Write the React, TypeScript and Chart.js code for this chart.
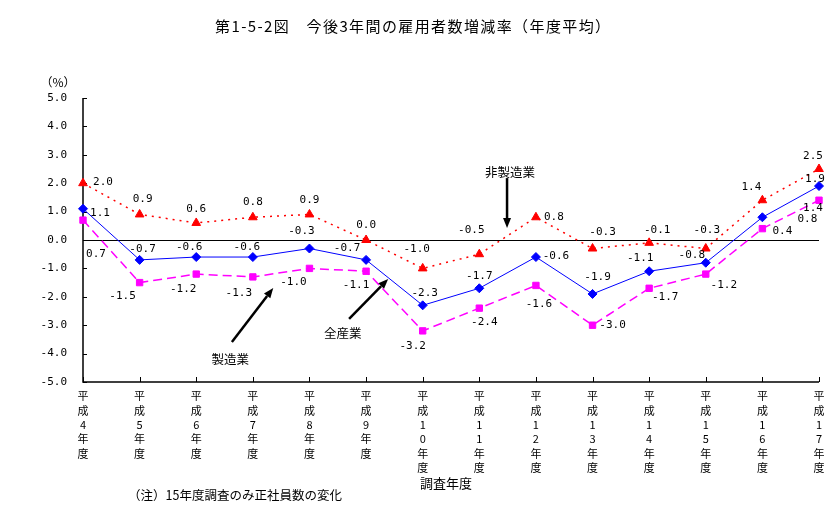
import { useEffect, useRef } from 'react';
import { Chart, registerables } from 'chart.js';

Chart.register(...registerables);

// ---- data ----
const yearNumbers = ['4', '5', '6', '7', '8', '9', '10', '11', '12', '13', '14', '15', '16', '17'];
const allIndustry = [1.1, -0.7, -0.6, -0.6, -0.3, -0.7, -2.3, -1.7, -0.6, -1.9, -1.1, -0.8, 0.8, 1.9];
const manufacturing = [0.7, -1.5, -1.2, -1.3, -1.0, -1.1, -3.2, -2.4, -1.6, -3.0, -1.7, -1.2, 0.4, 1.4];
const nonManufacturing = [2.0, 0.9, 0.6, 0.8, 0.9, 0.0, -1.0, -0.5, 0.8, -0.3, -0.1, -0.3, 1.4, 2.5];
const seriesNames = ['全産業', '製造業', '非製造業'];

// ---- value-label placement (pixel offsets from each point) ----
const allLabelOffsets = [[17, 4], [3, -11], [-7, -10], [-6, -10], [-8, -17], [-19, -12], [2, -12], [0, -12], [20, -1], [5, -17], [-9, -13], [-14, -8], [45, 2], [-4, -7]];
const mfgLabelOffsets = [[13, 34], [-17, 14], [-13, 15], [-14, 16], [-16, 14], [-10, 14], [-10, 15], [5, 14], [3, 19], [20, 0], [16, 9], [18, 11], [20, 3], [-6, 8]];
const nonMfgLabelOffsets = [[20, -1], [3, -15], [0, -14], [0, -15], [0, -14], [0, -15], [-6, -19], [-8, -24], [18, 0], [10, -16], [8, -13], [1, -18], [-11, -13], [-6, -13]];

// ---- annotation arrows (in data coordinates: category index, value) ----
const annotations = [
  { text: '非製造業', tx: 7.54, ty: 2.39, from: [7.49, 2.18], to: [7.49, 0.42] },
  { text: '製造業', tx: 2.6, ty: -4.19, from: [2.63, -3.59], to: [3.36, -1.69] },
  { text: '全産業', tx: 4.59, ty: -3.27, from: [4.7, -2.78], to: [5.39, -1.37] },
];

const CJK = '"Noto Sans CJK JP", "Noto Sans CJK SC", sans-serif';
const MONO = '"DejaVu Sans Mono", "Liberation Mono", monospace';

const xLabels = yearNumbers.map((n) => ['平', '成', ...n.split(''), '年', '度']);

function drawArrow(ctx: CanvasRenderingContext2D, x1: number, y1: number, x2: number, y2: number) {
  const ang = Math.atan2(y2 - y1, x2 - x1);
  const head = 10;
  const hw = 4;
  const bx = x2 - Math.cos(ang) * head;
  const by = y2 - Math.sin(ang) * head;
  ctx.beginPath();
  ctx.moveTo(x1, y1);
  ctx.lineTo(bx, by);
  ctx.lineWidth = 2.5;
  ctx.strokeStyle = '#000';
  ctx.stroke();
  ctx.beginPath();
  ctx.moveTo(x2, y2);
  ctx.lineTo(bx + Math.sin(ang) * hw, by - Math.cos(ang) * hw);
  ctx.lineTo(bx - Math.sin(ang) * hw, by + Math.cos(ang) * hw);
  ctx.closePath();
  ctx.fillStyle = '#000';
  ctx.fill();
}

const overlay = {
  id: 'overlay',
  beforeDatasetsDraw(chart: any) {
    const { ctx, chartArea, scales } = chart;
    const { left, right, top, bottom } = chartArea;
    const xs = scales.x;
    const ys = scales.y;
    ctx.save();
    ctx.strokeStyle = '#000';
    // zero line
    const y0 = Math.round(ys.getPixelForValue(0)) + 0.5;
    ctx.lineWidth = 1;
    ctx.beginPath();
    ctx.moveTo(left, y0);
    ctx.lineTo(right, y0);
    ctx.stroke();
    // axes
    ctx.lineWidth = 1.5;
    ctx.beginPath();
    ctx.moveTo(left, top);
    ctx.lineTo(left, bottom);
    ctx.lineTo(right, bottom);
    ctx.stroke();
    // inside tick marks
    ctx.lineWidth = 1;
    ys.ticks.forEach((t: any) => {
      const py = Math.round(ys.getPixelForValue(t.value)) + 0.5;
      ctx.beginPath();
      ctx.moveTo(left, py);
      ctx.lineTo(left + 4, py);
      ctx.stroke();
    });
    yearNumbers.forEach((_, i) => {
      const px = Math.round(xs.getPixelForValue(i)) + 0.5;
      ctx.beginPath();
      ctx.moveTo(px, bottom);
      ctx.lineTo(px, bottom - 5);
      ctx.stroke();
    });
    ctx.restore();
  },
  afterDatasetsDraw(chart: any) {
    const { ctx, scales } = chart;
    const xs = scales.x;
    const ys = scales.y;
    ctx.save();
    const offsetsBySeries = [allLabelOffsets, mfgLabelOffsets, nonMfgLabelOffsets];
    ctx.font = '11px ' + MONO;
    ctx.fillStyle = '#000';
    ctx.textAlign = 'center';
    ctx.textBaseline = 'middle';
    chart.data.datasets.forEach((ds: any, si: number) => {
      const meta = chart.getDatasetMeta(si);
      meta.data.forEach((pt: any, i: number) => {
        const off = offsetsBySeries[si][i];
        ctx.fillText(Number(ds.data[i]).toFixed(1), pt.x + off[0], pt.y + off[1]);
      });
    });
    // annotations
    annotations.forEach((a) => {
      drawArrow(
        ctx,
        xs.getPixelForValue(a.from[0]),
        ys.getPixelForValue(a.from[1]),
        xs.getPixelForValue(a.to[0]),
        ys.getPixelForValue(a.to[1])
      );
      ctx.font = '12.5px ' + CJK;
      ctx.fillStyle = '#000';
      ctx.textAlign = 'center';
      ctx.textBaseline = 'middle';
      ctx.fillText(a.text, xs.getPixelForValue(a.tx), ys.getPixelForValue(a.ty));
    });
    ctx.restore();
  },
  afterDraw(chart: any) {
    const { ctx } = chart;
    ctx.save();
    ctx.fillStyle = '#000';
    ctx.textBaseline = 'middle';
    ctx.textAlign = 'left';
    ctx.font = '15px ' + CJK;
    (ctx as any).letterSpacing = '1.4px';
    ctx.fillText('第1-5-2図　今後3年間の雇用者数増減率（年度平均）', 215, 26);
    (ctx as any).letterSpacing = '0px';
    ctx.textAlign = 'center';
    ctx.font = '12px ' + CJK;
    ctx.fillText('（%）', 58, 82);
    ctx.font = '13px ' + CJK;
    ctx.fillText('調査年度', 446, 483);
    ctx.font = '12.5px ' + CJK;
    ctx.textAlign = 'left';
    ctx.fillText('（注）15年度調査のみ正社員数の変化', 128, 495);
    ctx.restore();
  },
};

export default function App() {
  const canvasRef = useRef<HTMLCanvasElement | null>(null);

  useEffect(() => {
    if (!canvasRef.current) return;
    const chart = new Chart(canvasRef.current, {
      type: 'line',
      data: {
        labels: xLabels,
        datasets: [
          {
            label: seriesNames[0],
            data: allIndustry,
            borderColor: '#0000FF',
            backgroundColor: '#0000FF',
            borderWidth: 1,
            pointStyle: 'rectRot',
            pointRadius: 4.5,
            pointBorderWidth: 1,
            tension: 0,
          },
          {
            label: seriesNames[1],
            data: manufacturing,
            borderColor: '#FF00FF',
            backgroundColor: '#FF00FF',
            borderWidth: 1.5,
            borderDash: [9, 5],
            pointStyle: 'rect',
            pointRadius: 4.5,
            pointBorderWidth: 1,
            tension: 0,
          },
          {
            label: seriesNames[2],
            data: nonManufacturing,
            borderColor: '#FF0000',
            backgroundColor: '#FF0000',
            borderWidth: 1.5,
            borderDash: [2, 5],
            pointStyle: 'triangle',
            pointRadius: 5,
            pointBorderWidth: 1,
            tension: 0,
          },
        ],
      },
      options: {
        animation: false,
        responsive: true,
        maintainAspectRatio: false,
        layout: { padding: { top: 98, right: 15, left: 0, bottom: 0 } },
        plugins: {
          legend: { display: false },
          title: { display: false },
          tooltip: { enabled: false },
        },
        scales: {
          x: {
            type: 'category',
            offset: false,
            grid: { display: false, drawTicks: false },
            border: { display: false },
            ticks: {
              autoSkip: false,
              maxRotation: 0,
              minRotation: 0,
              padding: 7,
              color: '#000',
              font: { family: CJK, size: 11, lineHeight: 1.3 },
            },
            afterFit: (scale: any) => {
              scale.height = 143;
            },
          },
          y: {
            min: -5,
            max: 5,
            grid: { display: false, drawTicks: false },
            border: { display: false },
            ticks: {
              stepSize: 1,
              padding: 16,
              color: '#000',
              font: { family: MONO, size: 11 },
              callback: (v: any) => Number(v).toFixed(1),
            },
            afterFit: (scale: any) => {
              scale.width = 83;
            },
          },
        },
      },
      plugins: [overlay],
    } as any);
    return () => chart.destroy();
  }, []);

  return (
    <div style={{ position: 'fixed', left: 0, top: 0, width: 834, height: 525, background: '#fff' }}>
      <canvas ref={canvasRef} />
    </div>
  );
}
